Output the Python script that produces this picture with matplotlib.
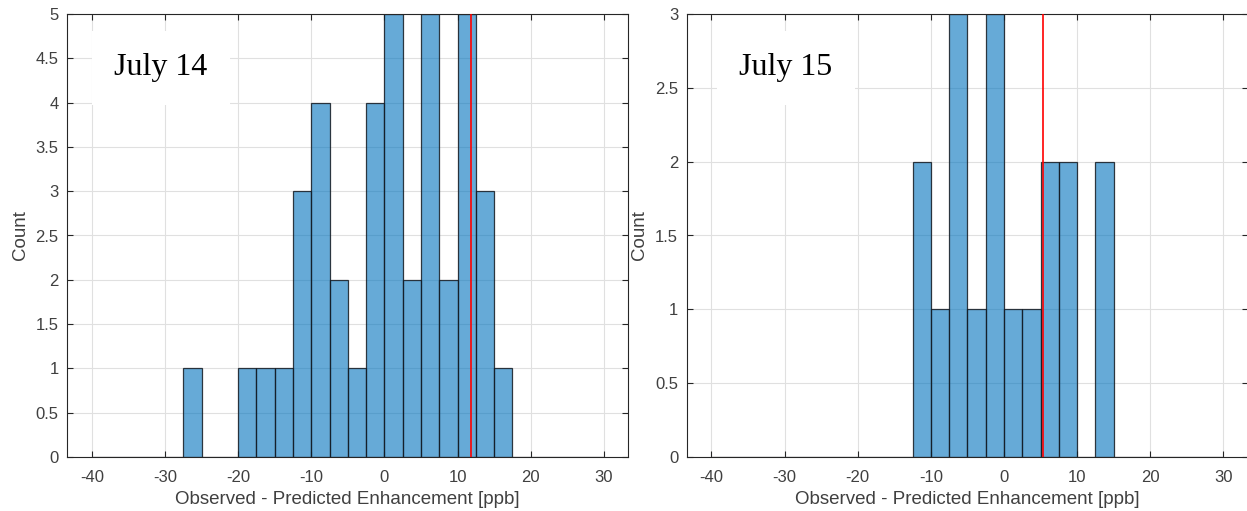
import numpy as np
import matplotlib
matplotlib.use("Agg")
import matplotlib.pyplot as plt
from matplotlib.ticker import FuncFormatter

# Histogram bin edges (ppb), 2.5 ppb wide from -40 to 30
bin_edges = np.arange(-40.0, 30.0 + 1e-9, 2.5)

# Counts per bin
counts_jul14 = [0, 0, 0, 0, 0, 1, 0, 0, 1, 1, 1, 3, 4, 2,
                1, 4, 5, 2, 5, 2, 5, 3, 1, 0, 0, 0, 0, 0]
counts_jul15 = [0, 0, 0, 0, 0, 0, 0, 0, 0, 0, 0, 2, 1, 3,
                1, 3, 1, 1, 2, 2, 0, 2, 0, 0, 0, 0, 0, 0]

# Red marker lines (ppb)
marker_jul14 = 11.9
marker_jul15 = 5.3

panel_labels = ["July 14", "July 15"]
y_max = [5, 3]
x_ticks = [-40, -30, -20, -10, 0, 10, 20, 30]
x_label = "Observed - Predicted Enhancement [ppb]"
y_label = "Count"

W, H = 1247, 511
axis_col = "#262626"
tick_col = "#404040"
face_col = (0.0, 0.447, 0.741, 0.6)
edge_col = (0.08, 0.1, 0.13, 0.85)

plt.rcParams["font.family"] = ["Liberation Sans", "DejaVu Sans"]
plt.rcParams["axes.unicode_minus"] = False

fig = plt.figure(figsize=(W / 100, H / 100), dpi=100)


def px_rect(x0, y0, x1, y1):
    return [x0 / W, 1 - y1 / H, (x1 - x0) / W, (y1 - y0) / H]


axes = [fig.add_axes(px_rect(67, 14, 628, 457)),
        fig.add_axes(px_rect(686.5, 14, 1247.6, 457))]

series = [counts_jul14, counts_jul15]
markers = [marker_jul14, marker_jul15]
label_pos = [(161, 68), (786, 68)]

for ax, counts, mark, lbl, ym, (lx, ly) in zip(axes, series, markers,
                                               panel_labels, y_max, label_pos):
    widths = np.diff(bin_edges)
    ax.bar(bin_edges[:-1], counts, width=widths, align="edge",
           color=face_col, edgecolor=edge_col, linewidth=0.9, zorder=2)
    ax.axvline(mark, color="red", linewidth=1.2, zorder=3)

    ax.set_xlim(-43.4, 33.3)
    ax.set_ylim(0, ym)
    ax.set_xticks(x_ticks)
    ax.set_yticks(np.arange(0, ym + 0.01, 0.5))
    ax.yaxis.set_major_formatter(FuncFormatter(lambda v, p: f"{v:g}"))

    ax.grid(True, color="#e0e0e0", linewidth=0.8)
    ax.set_axisbelow(True)
    ax.tick_params(direction="in", length=4, width=0.8, colors=axis_col,
                   labelcolor=tick_col, labelsize=12, top=True, right=True)
    ax.tick_params(axis="x", pad=9)
    ax.tick_params(axis="y", pad=6)
    for s in ax.spines.values():
        s.set_color(axis_col)
        s.set_linewidth(0.8)

    ax.set_xlabel(x_label, fontsize=13.5, color=tick_col, labelpad=5)
    ax.set_ylabel(y_label, fontsize=13.5, color=tick_col, labelpad=5)

    # label box in pixel position -> axes fraction
    pos = ax.get_position()
    fx = (lx / W - pos.x0) / pos.width
    fy = ((1 - ly / H) - pos.y0) / pos.height
    ax.text(fx, fy, lbl, transform=ax.transAxes, ha="center", va="center",
            family=["Liberation Serif", "DejaVu Serif"], fontsize=23,
            color="black", zorder=5,
            bbox=dict(boxstyle="square,pad=0.7", facecolor="white",
                      edgecolor="none"))

fig.savefig("out.png", dpi=100)
